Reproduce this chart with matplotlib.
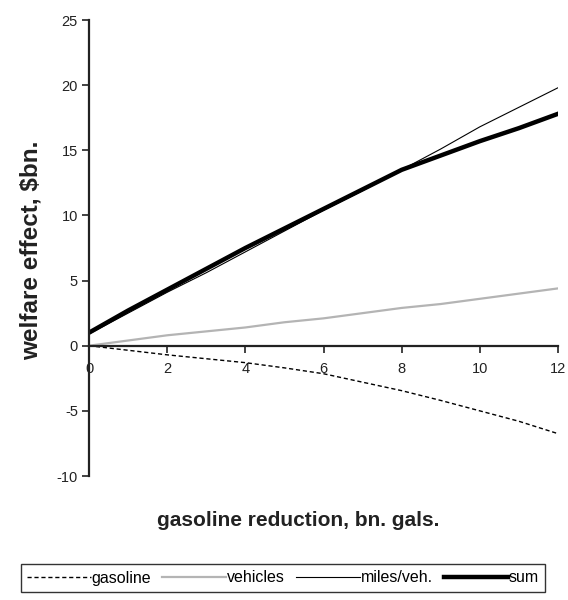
import matplotlib.pyplot as plt

plt.rcParams['font.family'] = ['Liberation Sans', 'DejaVu Sans']
plt.rcParams['axes.unicode_minus'] = False

# -----------------------------
# DATA
# -----------------------------
reduction = [0, 1, 2, 3, 4, 5, 6, 7, 8, 9, 10, 11, 12]
gasoline = [0, -0.35, -0.7, -1.0, -1.3, -1.7, -2.15, -2.8, -3.45, -4.2, -5.0, -5.8, -6.75]
vehicles = [0, 0.4, 0.8, 1.1, 1.4, 1.8, 2.1, 2.5, 2.9, 3.2, 3.6, 4.0, 4.4]
miles_veh = [0.9, 2.5, 4.1, 5.6, 7.2, 8.8, 10.4, 11.9, 13.5, 15.1, 16.8, 18.3, 19.8]
total = [1.0, 2.7, 4.3, 5.9, 7.5, 9.0, 10.5, 12.0, 13.5, 14.6, 15.7, 16.7, 17.8]

x_ticks = [0, 2, 4, 6, 8, 10, 12]
y_ticks = [-10, -5, 0, 5, 10, 15, 20, 25]

# -----------------------------
# FIGURE
# -----------------------------
fig = plt.figure(figsize=(5.68, 6.0), dpi=100)
ax = fig.add_axes([89 / 568, 1 - 476 / 600, (558 - 89) / 568, (476 - 20) / 600])

ax.plot(reduction, gasoline, color='black', lw=1.0, ls=(0, (3, 2)), label='gasoline')
ax.plot(reduction, vehicles, color='#b4b4b4', lw=1.6, label='vehicles')
ax.plot(reduction, miles_veh, color='black', lw=0.8, label='miles/veh.')
ax.plot(reduction, total, color='black', lw=3.2, label='sum')

ax.set_xlim(0, 12)
ax.set_ylim(-10, 25)
ax.set_xticks(x_ticks)
ax.set_yticks(y_ticks)

ax.spines['top'].set_visible(False)
ax.spines['right'].set_visible(False)
ax.spines['bottom'].set_position(('data', 0))
for side in ['left', 'bottom']:
    ax.spines[side].set_linewidth(1.6)
    ax.spines[side].set_color('#222222')
ax.tick_params(axis='both', labelsize=10.5, colors='#222222', length=5, width=1.2,
               direction='out', pad=3)
ax.tick_params(axis='x', pad=7)

fig.text(31 / 568, 1 - 250 / 600, 'welfare effect, $bn.', rotation=90,
         ha='center', va='center', fontsize=17.5, fontweight='bold', color='#222222')
fig.text(298 / 568, 1 - 520 / 600, 'gasoline reduction, bn. gals.',
         ha='center', va='center', fontsize=15, fontweight='bold', color='#222222')

leg = fig.legend(loc='center', bbox_to_anchor=(283 / 568, 1 - 578 / 600), ncol=4,
                 fontsize=11.5, frameon=True, fancybox=False, handlelength=4.0,
                 handletextpad=0.05, columnspacing=0.7, borderpad=0.4,
                 borderaxespad=0)
leg.get_frame().set_edgecolor('black')
leg.get_frame().set_linewidth(1.0)

plt.savefig('out.png', dpi=100)
